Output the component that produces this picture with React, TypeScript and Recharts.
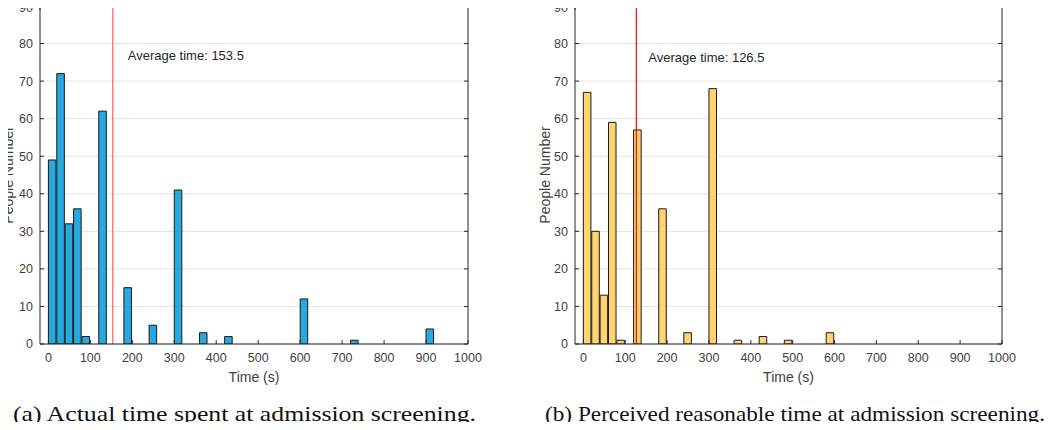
import React from 'react';
import {
  BarChart,
  Bar,
  XAxis,
  YAxis,
  CartesianGrid,
  ReferenceLine,
  Label,
} from 'recharts';

// histogram bins are 20 s wide, listed by their lower edge
const BIN_WIDTH = 20;
const X_TICKS = [0, 100, 200, 300, 400, 500, 600, 700, 800, 900, 1000];
const Y_TICKS = [0, 10, 20, 30, 40, 50, 60, 70, 80, 90];

const actualBins = [0, 20, 40, 60, 80, 120, 180, 240, 300, 360, 420, 600, 720, 900];
const actualCounts = [49, 72, 32, 36, 2, 62, 15, 5, 41, 3, 2, 12, 1, 4];
const actualAverage = 153.5;

const perceivedBins = [0, 20, 40, 60, 80, 120, 180, 240, 300, 360, 420, 480, 580];
const perceivedCounts = [67, 30, 13, 59, 1, 57, 36, 3, 68, 1, 2, 1, 3];
const perceivedAverage = 126.5;

const captionA = '(a) Actual time spent at admission screening.';
const captionB = '(b) Perceived reasonable time at admission screening.';

const FONT = 'Liberation Sans, Arial, sans-serif';
const AXIS = '#262626';
const TICK_TEXT = '#404040';

interface Props {
  bins: number[];
  counts: number[];
  average: number;
  fill: string;
  lineColor: string;
  leftW: number;
  rightW: number;
  labelX: number;
  textDx: number;
  textDy: number;
}

const Histogram: React.FC<Props> = ({ bins, counts, average, fill, lineColor, leftW, rightW, labelX, textDx, textDy }) => {
  const data = bins.map((b, i) => ({ mid: b + BIN_WIDTH / 2, count: counts[i] }));
  const width = 526;
  const height = 389;
  const plotW = width - leftW - rightW;
  const barPx = (plotW * BIN_WIDTH) / 1020;
  const tickStyle = { fontSize: 12.5, fill: TICK_TEXT, fontFamily: FONT };
  const hidden = () => <g />;

  return (
    <BarChart
      width={width}
      height={height}
      data={data}
      margin={{ top: 5, right: rightW - 1, left: 0, bottom: 0 }}
      barCategoryGap={0}
      style={{ overflow: 'visible' }}
    >
      <CartesianGrid vertical={false} stroke="#e3e3e3" yAxisId="left" />
      <XAxis
        dataKey="mid"
        type="number"
        domain={[-20, 1000]}
        ticks={X_TICKS}
        allowDataOverflow
        height={45}
        tick={tickStyle}
        tickSize={-4}
        tickMargin={13}
        stroke={AXIS}
        tickLine={{ stroke: AXIS }}
      >
        <Label value="Time (s)" position="insideBottom" offset={7} style={{ fontSize: 14, fill: TICK_TEXT, fontFamily: FONT }} />
      </XAxis>
      <XAxis
        xAxisId="top"
        orientation="top"
        type="number"
        domain={[-20, 1000]}
        ticks={X_TICKS}
        allowDataOverflow
        height={1}
        tick={hidden}
        tickSize={-4}
        stroke={AXIS}
      />
      <YAxis
        yAxisId="left"
        type="number"
        domain={[0, 90]}
        ticks={Y_TICKS}
        allowDataOverflow
        width={leftW}
        tick={tickStyle}
        tickSize={-4}
        tickMargin={11}
        stroke={AXIS}
      >
        <Label
          content={(p: any) => {
            const cy = p.viewBox.y + p.viewBox.height / 2;
            return (
              <text
                x={labelX}
                y={cy}
                transform={`rotate(-90 ${labelX} ${cy})`}
                textAnchor="middle"
                dominantBaseline="central"
                fontSize={14}
                fontFamily={FONT}
                fill={TICK_TEXT}
              >
                People Number
              </text>
            );
          }}
        />
      </YAxis>
      <YAxis
        yAxisId="right"
        orientation="right"
        type="number"
        domain={[0, 90]}
        ticks={Y_TICKS}
        allowDataOverflow
        width={1}
        tick={hidden}
        tickSize={-4}
        stroke={AXIS}
      />
      <Bar
        dataKey="count"
        yAxisId="left"
        fill={fill}
        stroke="#1a1a1a"
        strokeWidth={1}
        barSize={barPx}
        isAnimationActive={false}
      />
      <ReferenceLine
        x={average}
        yAxisId="left"
        stroke={lineColor}
        strokeWidth={1.2}
        label={(p: any) => (
          <text
            x={p.viewBox.x + textDx}
            y={p.viewBox.y + textDy}
            fontSize={13}
            fontFamily={FONT}
            fill="#262626"
          >
            {`Average time: ${average}`}
          </text>
        )}
      />
    </BarChart>
  );
};

export default function App() {
  return (
    <div style={{ position: 'relative', width: 1052, height: 430, margin: -8, background: '#fff', overflow: 'hidden' }}>
      <div style={{ position: 'absolute', left: 0, top: 0 }}>
        <Histogram
          bins={actualBins}
          counts={actualCounts}
          average={actualAverage}
          fill="#26a9de"
          lineColor="#ff5a5a"
          leftW={40}
          rightW={58}
          labelX={8}
          textDx={15}
          textDy={54}
        />
      </div>
      <div style={{ position: 'absolute', left: 526, top: 0 }}>
        <Histogram
          bins={perceivedBins}
          counts={perceivedCounts}
          average={perceivedAverage}
          fill="#ffd470"
          lineColor="#ff0000"
          leftW={49}
          rightW={50}
          labelX={19}
          textDx={12}
          textDy={56}
        />
      </div>
      <svg width={1052} height={40} style={{ position: 'absolute', left: 0, top: 390 }}>
        <text x={13} y={31} fontFamily="Liberation Serif, serif" fontSize={21} fill="#111" textLength={463} lengthAdjust="spacingAndGlyphs">
          {captionA}
        </text>
        <text x={545} y={31} fontFamily="Liberation Serif, serif" fontSize={21} fill="#111" textLength={500} lengthAdjust="spacingAndGlyphs">
          {captionB}
        </text>
      </svg>
    </div>
  );
}
